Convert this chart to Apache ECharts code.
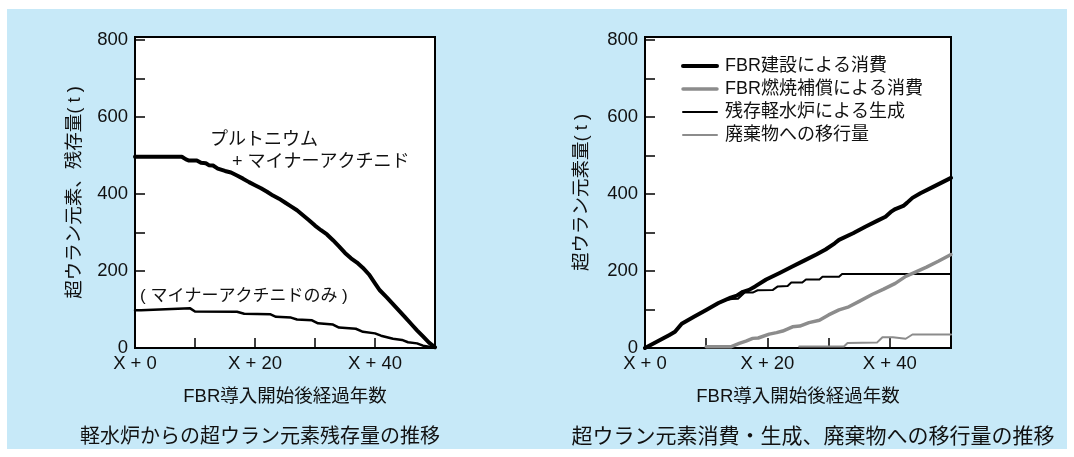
<!DOCTYPE html>
<html>
<head>
<meta charset="utf-8">
<script src="https://cdn.jsdelivr.net/npm/echarts@6/dist/echarts.min.js"></script>
<style>
  html, body { margin: 0; padding: 0; background: #ffffff; }
  #chart { width: 1074px; height: 457px; }
</style>
</head>
<body>
<div id="chart"></div>
<script>
// Years after the start of FBR introduction (x) and tonnes of transuranic elements (y)

// Left panel: transuranics remaining from light-water reactors
const puMaRemaining = [
  [0, 497], [2, 497], [4, 497], [6, 497], [7.8, 497], [8.5, 490], [9, 487], [10.3, 487],
  [11, 481], [11.8, 480], [12.3, 475], [13, 474], [13.8, 466], [15, 460], [16, 456],
  [17, 448], [18, 440], [19, 431], [20, 423], [21, 415], [22, 406], [23, 396], [24, 388],
  [25, 378], [26, 368], [27, 358], [28, 345], [29, 332], [30, 318], [31, 306], [32, 295],
  [33, 280], [34, 264], [35, 247], [36, 233], [37, 222], [38, 208], [39, 191], [40, 168],
  [40.8, 150], [42, 131], [43, 114], [44, 97], [45, 80], [46, 63], [47, 46], [48, 30],
  [49, 14], [50, 2]
];
const maOnlyRemaining = [
  [0, 98], [1, 98], [1.3, 103], [9.2, 103], [10, 95], [17, 94], [18.2, 89], [22.5, 88],
  [23.5, 81], [26, 79], [27, 74], [29.5, 72], [30.5, 64], [33, 61], [34, 53], [36.8, 50],
  [38, 42], [40, 38], [41, 32], [42, 28], [43, 24], [44.5, 21], [45.5, 15], [47, 12],
  [48, 6], [50, 1]
];

// Right panel: consumption, generation and transfer to waste
const fbrBuildConsumption = [
  [0, 0], [2, 17], [4, 34], [4.9, 42], [6, 63], [8, 81], [10, 99], [12, 117], [14, 131],
  [15, 136], [16, 146], [17, 151], [18, 160], [19.8, 178], [22, 195], [24, 211], [26, 227],
  [28, 243], [29.5, 256], [31, 272], [31.7, 281], [34, 298], [36, 315], [38, 331],
  [39.3, 341], [40.3, 355], [40.9, 361], [42.2, 369], [42.8, 377], [43.7, 390], [45, 402],
  [47, 418], [50, 442]
];
const fbrBurnCompensation = [
  [10, 3], [14, 3], [15.4, 12], [16.5, 18], [17.6, 25], [18.5, 26], [20.3, 36], [21.5, 40],
  [22.5, 44], [24.1, 55], [25.3, 57], [26.8, 66], [28.5, 72], [30, 86], [31.7, 99],
  [33.3, 107], [35, 121], [37.1, 139], [39, 153], [40.9, 168], [42.6, 186], [44, 196],
  [46, 210], [48, 226], [50, 243]
];
const lwrGeneration = [
  [0, 0], [4.9, 42], [6, 63], [10, 99], [13, 124], [14.2, 127], [15.2, 128], [16.3, 144],
  [17.6, 144], [18.4, 150], [20.9, 151], [21.2, 148], [21.7, 160], [23.3, 161], [23.9, 170],
  [25.7, 170], [26.3, 178], [28.5, 178], [29, 185], [31.7, 185], [32.2, 192], [50, 192]
];
const wasteTransfer = [
  [25.2, 4], [32.5, 4], [33.1, 13], [37.9, 14], [38.8, 28], [40.5, 28], [42.6, 24],
  [43.7, 35], [50, 35]
];

const seriesNames = ['FBR建設による消費', 'FBR燃焼補償による消費', '残存軽水炉による生成', '廃棄物への移行量'];
const xTickLabels = { 0: 'X + 0', 20: 'X + 20', 40: 'X + 40' };
const yTickLabels = [0, 200, 400, 600, 800];

const FONT = '"Liberation Sans", "Noto Sans CJK JP", sans-serif';
const INK = '#111111';
const GRAY = '#8c8c8c';

// stroke width and colour of each right-panel line, in legend order
const lineWidths = [4, 3.5, 2, 2];
const lineColors = ['#000', GRAY, '#000', GRAY];

function xAxisFor(gridIndex) {
  return {
    gridIndex, type: 'value', min: 0, max: 50, interval: 10,
    axisLine: { show: true, lineStyle: { color: '#000', width: 2 } },
    axisTick: { show: true, inside: true, length: 10, lineStyle: { color: '#000', width: 1.5 } },
    splitLine: { show: false },
    axisLabel: {
      margin: 7, fontSize: 18.5, color: INK, fontFamily: FONT,
      formatter: v => xTickLabels[v] || ''
    },
    name: 'FBR導入開始後経過年数', nameLocation: 'middle', nameGap: 40,
    nameTextStyle: { fontSize: 18.5, color: INK, fontFamily: FONT }
  };
}
function yAxisFor(gridIndex, title, gap) {
  return {
    gridIndex, type: 'value', min: 0, max: 808, interval: 100,
    axisLine: { show: true, lineStyle: { color: '#000', width: 2 } },
    axisTick: { show: true, inside: true, length: 10, lineStyle: { color: '#000', width: 1.5 } },
    splitLine: { show: false },
    axisLabel: {
      margin: 7, fontSize: 18.5, color: INK, fontFamily: FONT,
      formatter: v => yTickLabels.indexOf(v) >= 0 ? String(v) : ''
    },
    name: title, nameLocation: 'middle', nameRotate: 90, nameGap: gap,
    nameTextStyle: { fontSize: 18.5, color: INK, fontFamily: FONT }
  };
}
function lineSeries(name, data, idx, color, width) {
  return {
    name, type: 'line', data, xAxisIndex: idx, yAxisIndex: idx,
    symbol: 'none', showSymbol: false, silent: true,
    lineStyle: { color, width, join: 'round', cap: 'round' },
    itemStyle: { color }
  };
}

const chart = echarts.init(document.getElementById('chart'), null, { renderer: 'canvas' });
chart.setOption({
  animation: false,
  backgroundColor: '#ffffff',
  textStyle: { fontFamily: FONT },
  grid: [
    { left: 135, right: 639, top: 37, bottom: 109, show: true, backgroundColor: '#ffffff', borderColor: '#000', borderWidth: 2 },
    { left: 645, right: 123, top: 37, bottom: 109, show: true, backgroundColor: '#ffffff', borderColor: '#000', borderWidth: 2 }
  ],
  xAxis: [xAxisFor(0), xAxisFor(1)],
  yAxis: [
    yAxisFor(0, '超ウラン元素、残存量( t )', 51),
    yAxisFor(1, '超ウラン元素量( t )', 54)
  ],
  legend: {
    data: seriesNames.map((name, i) => ({
      name, lineStyle: { width: lineWidths[i], color: lineColors[i] }
    })),
    orient: 'vertical', left: 676, top: 52,
    itemWidth: 34, itemHeight: 14, itemGap: 5,
    // line-only keys: the marker drawn at the middle of each key is hidden
    itemStyle: { opacity: 0, color: 'transparent', borderWidth: 0 },
    textStyle: { fontSize: 18, color: INK, fontFamily: FONT, padding: [0, 0, 0, 3] },
    selectedMode: false
  },
  graphic: [
    { type: 'rect', z: -10, silent: true, shape: { x: 7, y: 9, width: 1060, height: 440 }, style: { fill: '#c7e9f8' } },
    { type: 'text', left: 210, top: 131, silent: true, style: { text: 'プルトニウム', fill: INK, font: '18px ' + FONT } },
    { type: 'text', left: 232, top: 153, silent: true, style: { text: '+ マイナーアクチニド', fill: INK, font: '18px ' + FONT } },
    { type: 'text', left: 140, top: 288, silent: true, style: { text: '( マイナーアクチニドのみ )', fill: INK, font: '17px ' + FONT } },
    { type: 'text', x: 260, y: 437, silent: true, style: { text: '軽水炉からの超ウラン元素残存量の推移', align: 'center', verticalAlign: 'middle', font: '20px ' + FONT, fill: INK } },
    { type: 'text', x: 813, y: 437, silent: true, style: { text: '超ウラン元素消費・生成、廃棄物への移行量の推移', align: 'center', verticalAlign: 'middle', font: '21px ' + FONT, fill: INK } }
  ],
  series: [
    lineSeries('プルトニウム＋マイナーアクチニド', puMaRemaining, 0, '#000', 4),
    lineSeries('マイナーアクチニドのみ', maOnlyRemaining, 0, '#000', 2.5),
    lineSeries(seriesNames[2], lwrGeneration, 1, lineColors[2], lineWidths[2]),
    lineSeries(seriesNames[3], wasteTransfer, 1, lineColors[3], lineWidths[3]),
    lineSeries(seriesNames[1], fbrBurnCompensation, 1, lineColors[1], lineWidths[1]),
    lineSeries(seriesNames[0], fbrBuildConsumption, 1, lineColors[0], lineWidths[0])
  ]
});
</script>
</body>
</html>
